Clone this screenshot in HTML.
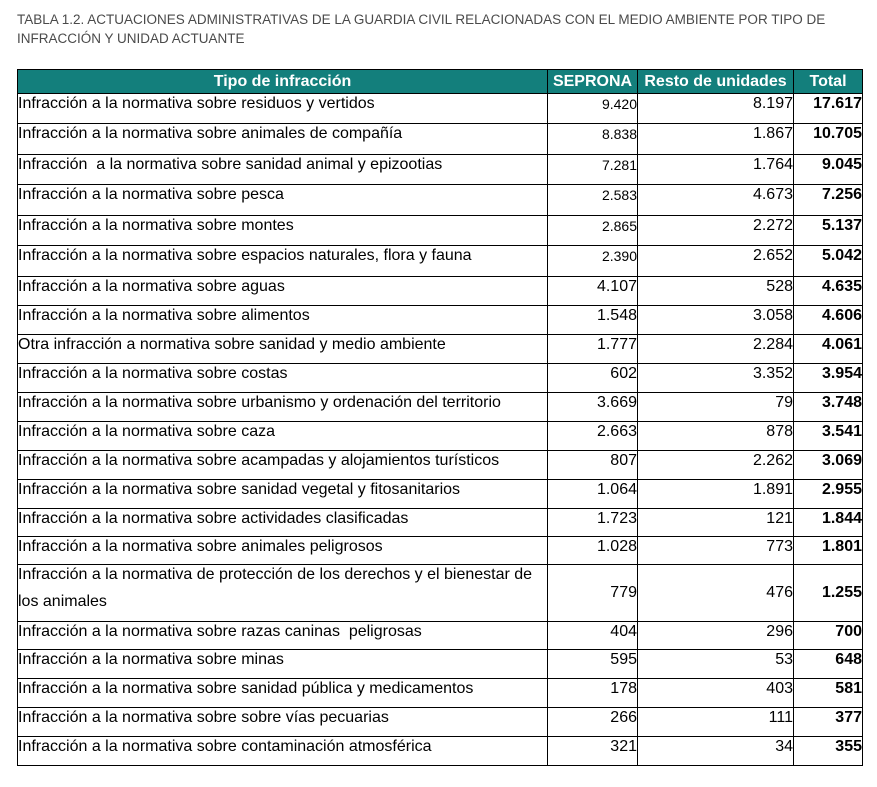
<!DOCTYPE html>
<html><head><meta charset="utf-8"><style>
body{margin:0;background:#fff;width:877px;height:787px;position:relative;overflow:hidden;font-family:"Liberation Sans",Arial,sans-serif}
.t{position:absolute;left:17px;color:#4a4a4a;font-size:13.5px;white-space:nowrap}
table{position:absolute;left:17px;top:69px;border-collapse:collapse;table-layout:fixed;width:845px}
td,th{border:1px solid #000;padding:0;font-size:16px;line-height:18px;vertical-align:top;white-space:nowrap;overflow:hidden;color:#000}
th{background:#137f7c;color:#fff;font-weight:bold;text-align:center;vertical-align:middle;font-size:16px}
td{padding-top:1px}
td.n{text-align:right}
td.s{font-size:14px}
td.b{font-weight:bold;text-align:right}
</style></head><body>
<div class="t" style="top:12px">TABLA 1.2. ACTUACIONES ADMINISTRATIVAS DE LA GUARDIA CIVIL RELACIONADAS CON EL MEDIO AMBIENTE POR TIPO DE</div>
<div class="t" style="top:31px">INFRACCIÓN Y UNIDAD ACTUANTE</div>
<table>
<colgroup><col style="width:530px"><col style="width:90px"><col style="width:156px"><col style="width:69px"></colgroup>
<tr style="height:24px"><th>Tipo de infracción</th><th>SEPRONA</th><th>Resto de unidades</th><th>Total</th></tr>
<tr style="height:30px"><td>Infracción a la normativa sobre residuos y vertidos</td><td class="n s">9.420</td><td class="n">8.197</td><td class="b">17.617</td></tr>
<tr style="height:31px"><td>Infracción a la normativa sobre animales de compañía</td><td class="n s">8.838</td><td class="n">1.867</td><td class="b">10.705</td></tr>
<tr style="height:30px"><td>Infracción&nbsp; a la normativa sobre sanidad animal y epizootias</td><td class="n s">7.281</td><td class="n">1.764</td><td class="b">9.045</td></tr>
<tr style="height:31px"><td>Infracción a la normativa sobre pesca</td><td class="n s">2.583</td><td class="n">4.673</td><td class="b">7.256</td></tr>
<tr style="height:30px"><td>Infracción a la normativa sobre montes</td><td class="n s">2.865</td><td class="n">2.272</td><td class="b">5.137</td></tr>
<tr style="height:31px"><td>Infracción a la normativa sobre espacios naturales, flora y fauna</td><td class="n s">2.390</td><td class="n">2.652</td><td class="b">5.042</td></tr>
<tr style="height:29px"><td>Infracción a la normativa sobre aguas</td><td class="n">4.107</td><td class="n">528</td><td class="b">4.635</td></tr>
<tr style="height:29px"><td>Infracción a la normativa sobre alimentos</td><td class="n">1.548</td><td class="n">3.058</td><td class="b">4.606</td></tr>
<tr style="height:29px"><td>Otra infracción a normativa sobre sanidad y medio ambiente</td><td class="n">1.777</td><td class="n">2.284</td><td class="b">4.061</td></tr>
<tr style="height:29px"><td>Infracción a la normativa sobre costas</td><td class="n">602</td><td class="n">3.352</td><td class="b">3.954</td></tr>
<tr style="height:29px"><td>Infracción a la normativa sobre urbanismo y ordenación del territorio</td><td class="n">3.669</td><td class="n">79</td><td class="b">3.748</td></tr>
<tr style="height:29px"><td>Infracción a la normativa sobre caza</td><td class="n">2.663</td><td class="n">878</td><td class="b">3.541</td></tr>
<tr style="height:29px"><td>Infracción a la normativa sobre acampadas y alojamientos turísticos</td><td class="n">807</td><td class="n">2.262</td><td class="b">3.069</td></tr>
<tr style="height:29px"><td>Infracción a la normativa sobre sanidad vegetal y fitosanitarios</td><td class="n">1.064</td><td class="n">1.891</td><td class="b">2.955</td></tr>
<tr style="height:28px"><td>Infracción a la normativa sobre actividades clasificadas</td><td class="n">1.723</td><td class="n">121</td><td class="b">1.844</td></tr>
<tr style="height:28px"><td>Infracción a la normativa sobre animales peligrosos</td><td class="n">1.028</td><td class="n">773</td><td class="b">1.801</td></tr>
<tr style="height:57px"><td><div>Infracción a la normativa de protección de los derechos y el bienestar de</div><div style="margin-top:9px">los animales</div></td><td class="n" style="vertical-align:middle;padding:0">779</td><td class="n" style="vertical-align:middle;padding:0">476</td><td class="b" style="vertical-align:middle;padding:0">1.255</td></tr>
<tr style="height:28px"><td>Infracción a la normativa sobre razas caninas&nbsp; peligrosas</td><td class="n">404</td><td class="n">296</td><td class="b">700</td></tr>
<tr style="height:29px"><td>Infracción a la normativa sobre minas</td><td class="n">595</td><td class="n">53</td><td class="b">648</td></tr>
<tr style="height:29px"><td>Infracción a la normativa sobre sanidad pública y medicamentos</td><td class="n">178</td><td class="n">403</td><td class="b">581</td></tr>
<tr style="height:29px"><td>Infracción a la normativa sobre sobre vías pecuarias</td><td class="n">266</td><td class="n">111</td><td class="b">377</td></tr>
<tr style="height:29px"><td>Infracción a la normativa sobre contaminación atmosférica</td><td class="n">321</td><td class="n">34</td><td class="b">355</td></tr>
</table>
</body></html>
